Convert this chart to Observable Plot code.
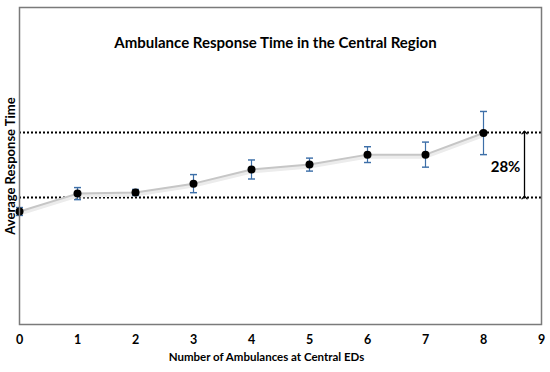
<!DOCTYPE html>
<html>
<head>
<meta charset="utf-8">
<script src="https://cdn.jsdelivr.net/npm/d3@7"></script>
<script src="https://cdn.jsdelivr.net/npm/@observablehq/plot@0.6"></script>
<style>
  html, body { margin: 0; padding: 0; background: #fff; }
  #chart svg { display: block; font-family: Lato, "Open Sans", sans-serif; }
</style>
</head>
<body>
<div id="chart"></div>
<script>
const ambulances = [0, 1, 2, 3, 4, 5, 6, 7, 8];
const responseTime = [9.40, 10.17, 10.22, 10.60, 11.21, 11.42, 11.85, 11.85, 12.78];
const errorMargin = [0.17, 0.26, 0.13, 0.39, 0.41, 0.28, 0.34, 0.54, 0.93];
const refLevels = [10, 12.8];
const xTicks = [0, 1, 2, 3, 4, 5, 6, 7, 8, 9];
const annotation = {label: "28%", x: 8.38, y: 11.32, arrowX: 8.707};
const titleText = "Ambulance Response Time in the Central Region";
const xLabel = "Number of Ambulances at Central EDs";
const yLabel = "Average Response Time";

const rows = ambulances.map((a, i) => ({
  x: a, y: responseTime[i], lo: responseTime[i] - errorMargin[i], hi: responseTime[i] + errorMargin[i]
}));

const chart = Plot.plot({
  width: 550,
  height: 372,
  marginLeft: 19,
  marginRight: 9,
  marginTop: 7,
  marginBottom: 48,
  x: {domain: [0, 9], axis: null},
  y: {domain: [4.53, 18.19], axis: null},
  marks: [
    Plot.ruleY(refLevels, {stroke: "#000", strokeWidth: 2, strokeDasharray: "2,2"}),
    Plot.line(rows, {x: "x", y: "y", stroke: "#ececec", strokeWidth: 4, dy: 2}),
    Plot.line(rows, {x: "x", y: "y", stroke: "#c6c6c6", strokeWidth: 2}),
    Plot.link(rows, {x1: "x", x2: "x", y1: "lo", y2: "hi", stroke: "#3d6fa8", strokeWidth: 1.2, markerStart: "tick", markerEnd: "tick"}),
    Plot.dot(rows, {x: "x", y: "y", r: 4, fill: "#000"}),
    Plot.link([annotation], {x1: "arrowX", x2: "arrowX", y1: () => refLevels[0], y2: () => refLevels[1], stroke: "#000", strokeWidth: 1.3, markerStart: "arrow", markerEnd: "arrow"}),
    Plot.text([annotation], {x: "x", y: "y", text: "label", fontSize: 15, fontWeight: "bold", fill: "#000"}),
    Plot.frame({stroke: "#7a7a7a", strokeWidth: 1.5}),
    Plot.axisX(xTicks, {tickSize: 0, tickPadding: 11, fontSize: 12.5, fontWeight: "bold", fill: "#000", label: null, tickFormat: d => String(d)}),
    Plot.text([titleText], {frameAnchor: "top", dy: 30, dx: -5, fontSize: 15, fontWeight: "bold", fill: "#000"}),
    Plot.text([xLabel], {frameAnchor: "bottom", dy: 36, dx: -14, fontSize: 11.5, fontWeight: "bold", fill: "#000"}),
    Plot.text([yLabel], {frameAnchor: "left", dx: -9, rotate: -90, textAnchor: "middle", fontSize: 13, fontWeight: "bold", fill: "#000"})
  ]
});
document.getElementById("chart").appendChild(chart);
</script>
</body>
</html>
